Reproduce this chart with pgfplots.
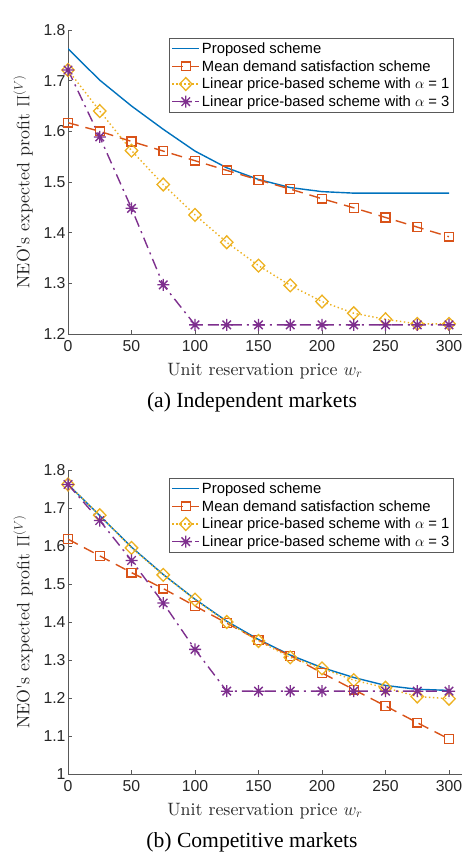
\documentclass[border=0pt]{standalone}
\usepackage{fix-cm}
\usepackage{pgfplots}
\pgfplotsset{compat=1.18}
\usepackage{pgfplotstable}
\usepackage{fontspec}
\newfontfamily\helv{Liberation Sans}
\newfontfamily\timesfont{Liberation Serif}
\newfontfamily\lmten{lmroman10-regular}[Extension=.otf]
\definecolor{mblue}{rgb}{0,0.447,0.741}
\definecolor{morange}{rgb}{0.85,0.325,0.098}
\definecolor{myellow}{rgb}{0.929,0.694,0.125}
\definecolor{mpurple}{rgb}{0.494,0.184,0.556}
\definecolor{axgray}{rgb}{0.35,0.35,0.35}
\definecolor{txtgray}{rgb}{0.15,0.15,0.15}
\pgfdeclareplotmark{mstar}{%
  \pgfpathmoveto{\pgfqpoint{0pt}{\pgfplotmarksize}}\pgfpathlineto{\pgfqpoint{0pt}{-\pgfplotmarksize}}%
  \pgfpathmoveto{\pgfqpoint{\pgfplotmarksize}{0pt}}\pgfpathlineto{\pgfqpoint{-\pgfplotmarksize}{0pt}}%
  \pgfpathmoveto{\pgfqpoint{0.707\pgfplotmarksize}{0.707\pgfplotmarksize}}\pgfpathlineto{\pgfqpoint{-0.707\pgfplotmarksize}{-0.707\pgfplotmarksize}}%
  \pgfpathmoveto{\pgfqpoint{0.707\pgfplotmarksize}{-0.707\pgfplotmarksize}}\pgfpathlineto{\pgfqpoint{-0.707\pgfplotmarksize}{0.707\pgfplotmarksize}}%
  \pgfusepathqstroke}

\pgfplotstableread{
x blue orange yellow purple
0 1.763 1.617 1.721 1.721
25 1.701 1.600 1.640 1.589
50 1.650 1.580 1.562 1.448
75 1.604 1.561 1.495 1.297
100 1.561 1.542 1.435 1.218
125 1.528 1.523 1.381 1.218
150 1.505 1.504 1.335 1.218
175 1.489 1.486 1.296 1.218
200 1.481 1.467 1.264 1.218
225 1.478 1.449 1.241 1.218
250 1.478 1.430 1.229 1.218
275 1.478 1.411 1.220 1.218
300 1.478 1.392 1.220 1.218
}\indep

\pgfplotstableread{
x blue orange yellow purple
0 1.762 1.618 1.762 1.762
25 1.680 1.574 1.681 1.667
50 1.597 1.530 1.595 1.562
75 1.525 1.488 1.524 1.450
100 1.460 1.442 1.459 1.328
125 1.402 1.397 1.400 1.218
150 1.354 1.352 1.350 1.218
175 1.313 1.311 1.307 1.218
200 1.280 1.266 1.278 1.218
225 1.254 1.222 1.247 1.218
250 1.233 1.179 1.227 1.218
275 1.223 1.135 1.204 1.218
300 1.220 1.092 1.198 1.218
}\comp

\pgfplotsset{
  mystyle/.style={
    scale only axis, width=393.7pt, height=304pt,
    xmin=0, xmax=310,
    axis x line*=bottom, axis y line*=left,
    axis line style={axgray, line width=0.7pt},
    tick align=inside, major tick length=4pt,
    tick style={axgray, line width=0.6pt},
    xtick={0,50,...,300},
    /pgf/number format/assume math mode=true,
    ticklabel style={font=\helv\fontsize{15.8}{18}\selectfont, text=txtgray},
    xticklabel style={yshift=-3pt},
    yticklabel style={xshift=1pt},
    xlabel={Unit reservation price $w_r$},
    ylabel={NEO's expected profit $\Pi^{(V)}$},
    label style={font=\lmten\fontsize{17.9}{21}\selectfont, text=txtgray},
    xlabel style={at={(axis description cs:0.5,-0.1349)}, anchor=base},
    ylabel style={at={(axis description cs:-0.089,0.5)}, anchor=south, inner sep=0pt},
    legend cell align=left,
    legend style={at={(rel axis cs:0.9797,0.974)}, anchor=north east,
      font=\helv\fontsize{14.8}{17}\selectfont, draw=axgray, line width=0.5pt,
      row sep=1.4pt, inner xsep=2pt, inner ysep=2.5pt},
    legend image code/.code={\draw[line width=1.4pt, mark repeat=2,mark phase=2] plot coordinates {(0pt,0pt)(13.5pt,0pt)(27pt,0pt)};},
    every axis plot/.append style={line width=1.4pt},
  },
  pblue/.style={mblue, no marks},
  porange/.style={morange, dash pattern=on 11pt off 7pt, mark=square, mark size=4.4pt, mark options={solid, line width=1.3pt}},
  pyellow/.style={myellow, dash pattern=on 1.4pt off 2.6pt, mark=diamond, mark size=6.4pt, mark options={solid, xscale=1.3, line width=1.3pt}},
  ppurple/.style={mpurple, dash pattern=on 11pt off 5pt on 2pt off 5pt, mark=mstar, mark size=6pt, mark options={solid, line width=1.3pt}},
}

\begin{document}
\begin{tikzpicture}
\begin{axis}[mystyle, at={(68pt,525pt)}, anchor=south west, ymin=1.2, ymax=1.8, ytick={1.2,1.3,...,1.8}]
\addplot[pblue] table[x=x,y=blue]{\indep};
\addlegendentry{Proposed scheme}
\addplot[porange] table[x=x,y=orange]{\indep};
\addlegendentry{Mean demand satisfaction scheme}
\addplot[pyellow] table[x=x,y=yellow]{\indep};
\addlegendentry{Linear price-based scheme with $\alpha$ = 1}
\addplot[ppurple] table[x=x,y=purple]{\indep};
\addlegendentry{Linear price-based scheme with $\alpha$ = 3}
\node[anchor=base west, inner sep=0pt, text=txtgray, font=\helv\fontsize{15.8}{18}\selectfont] at ([xshift=1pt,yshift=5pt]rel axis cs:0,1) {×10\textsuperscript{5}};
\end{axis}
\begin{axis}[mystyle, at={(68pt,85pt)}, anchor=south west, ymin=1, ymax=1.8, ytick={1,1.1,...,1.8}]
\addplot[pblue] table[x=x,y=blue]{\comp};
\addlegendentry{Proposed scheme}
\addplot[porange] table[x=x,y=orange]{\comp};
\addlegendentry{Mean demand satisfaction scheme}
\addplot[pyellow] table[x=x,y=yellow]{\comp};
\addlegendentry{Linear price-based scheme with $\alpha$ = 1}
\addplot[ppurple] table[x=x,y=purple]{\comp};
\addlegendentry{Linear price-based scheme with $\alpha$ = 3}
\node[anchor=base west, inner sep=0pt, text=txtgray, font=\helv\fontsize{15.8}{18}\selectfont] at ([xshift=1pt,yshift=5pt]rel axis cs:0,1) {×10\textsuperscript{5}};
\end{axis}
\node[anchor=base, font=\timesfont\fontsize{21.6}{25}\selectfont] at (252pt,451pt) {(a) Independent markets};
\node[anchor=base, font=\timesfont\fontsize{21.6}{25}\selectfont] at (252pt,11pt) {(b) Competitive markets};
\pgfresetboundingbox
\useasboundingbox (0,0) rectangle (467pt,859pt);
\end{tikzpicture}
\end{document}
